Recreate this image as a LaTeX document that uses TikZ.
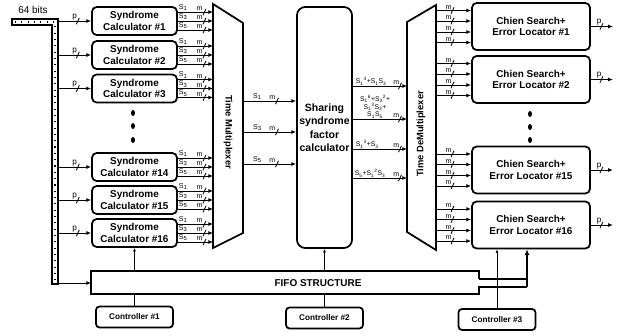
\documentclass[tikz,border=0pt]{standalone}
\usepackage{fontspec}
\setmainfont{Liberation Sans}
\usetikzlibrary{arrows.meta, calc}
\tikzset{
    blk/.style={draw=black, line width=1.5pt, rounded corners=4pt, align=center, inner sep=1pt,
        font=\fontsize{8.5}{9.5}\selectfont\bfseries},
    ctrl/.style={blk, rounded corners=3pt, minimum width=2.31cm, minimum height=0.63cm,
        font=\fontsize{7}{8}\selectfont\bfseries},
    sig/.style={-{Latex[length=4pt,width=3.4pt]}, line width=0.8pt},
    ctlarrow/.style={-{Latex[length=3pt,width=2.4pt]}, line width=0.5pt},
    lbl/.style={above, inner sep=0.5pt, font=\fontsize{6}{6.5}\selectfont},
    plbl/.style={lbl, font=\fontsize{7}{7.5}\selectfont},
    expr/.style={inner sep=0.6pt, align=center, font=\fontsize{5.8}{6.6}\selectfont},
    slash/.pic={\draw[-, line width=0.7pt] (-1.5,3.2) -- (1.5,-3.2);}
}

\begin{document}
\begin{tikzpicture}[x=0.03cm, y=-0.03cm]
    \useasboundingbox (0,0) rectangle (621,335);

    % 64 bit input bus
    \node[font=\fontsize{8.5}{9}\selectfont] (bits) at (33,10) {64 bits};
    \draw[line width=1.2pt] (12,19) -- (58,19) -- (58,284) -- (52,284) -- (52,25) -- (12,25) -- cycle;
    \draw[line width=1pt, dash pattern=on 0.9pt off 4.5pt] (15,22) -- (55,22) -- (55,281);
    \coordinate (bus) at (58,283);

    % syndrome calculators
    \foreach \n/\y in {1/21, 2/55, 3/88.5, 14/167, 15/200, 16/233} {
        \node[blk, minimum width=2.55cm, minimum height=0.84cm] (sc\n) at (134.5,\y) {Syndrome\\Calculator \#\n};
        \draw[sig] (bus |- sc\n) -- node[plbl, pos=0.5] {p} pic[pos=0.6] {slash} (sc\n.west);
    }
    \foreach \y in {113, 126, 140}
        \fill (133,\y) ellipse [x radius=0.06cm, y radius=0.09cm];

    % time multiplexer
    \coordinate (mux-tl) at (213,4);
    \coordinate (mux-tr) at (243,23);
    \draw[line width=1.5pt] (mux-tl) -- (mux-tr) -- (243,233) -- (213,248) -- cycle;
    \node[rotate=-90, font=\fontsize{8}{9}\selectfont\bfseries] (mux) at (228,132) {Time Multiplexer};
    \foreach \n in {1, 2, 3, 14, 15, 16}
        \foreach \k/\dy in {1/-9, 3/0, 5/9}
            \draw[sig] ($(sc\n.east)+(0,\dy)$) coordinate (s)
                -- node[lbl, pos=0.15] {S\textsubscript{\k}} node[lbl, pos=0.62] {m} pic[pos=0.76] {slash} (s -| mux-tl);

    % sharing syndrome factor calculator
    \node[blk, rounded corners=7pt, minimum width=1.65cm, minimum height=7.23cm,
        font=\fontsize{9}{11.5}\selectfont\bfseries] (ssf) at (324.5,127.5) {Sharing\\syndrome\\factor\\calculator};
    \foreach \k/\y in {1/101, 3/132, 5/164}
        \draw[sig] (mux-tr |- 0,\y) -- node[lbl, pos=0.27] {S\textsubscript{\k}} node[lbl, pos=0.55] {m} pic[pos=0.64] {slash} (ssf.west |- 0,\y);

    % time demultiplexer
    \coordinate (demux-tl) at (407,22);
    \coordinate (demux-tr) at (436,5);
    \draw[line width=1.5pt] (demux-tl) -- (demux-tr) -- (436,250) -- (407,232) -- cycle;
    \node[rotate=90, font=\fontsize{8}{9}\selectfont\bfseries] (demux) at (421,134) {Time DeMultiplexer};
    \foreach \y in {86, 119, 149, 178}
        \draw[sig] (ssf.east |- 0,\y) -- node[lbl, pos=0.8] {m} pic[pos=0.87] {slash} (demux-tl |- 0,\y);
    \node[expr, anchor=south west] (f1) at (355,86) {S\textsubscript{1}\textsuperscript{4}+S\textsubscript{1}S\textsubscript{3}};
    \node[expr, anchor=south] (f2) at (375,119) {S\textsubscript{1}\textsuperscript{6}+S\textsubscript{3}\textsuperscript{2}+\\S\textsubscript{1}\textsuperscript{3}S\textsubscript{3}+\\S\textsubscript{1}S\textsubscript{5}\hspace{14pt}};
    \node[expr, anchor=south west] (f3) at (355,149) {S\textsubscript{1}\textsuperscript{3}+S\textsubscript{3}};
    \node[expr, anchor=south west] (f4) at (354,178) {S\textsubscript{5}+S\textsubscript{1}\textsuperscript{2}S\textsubscript{3}};

    % chien search and error locators
    \foreach \n/\y in {1/26.5, 2/79.5, 15/170, 16/225} {
        \node[blk, minimum width=3.54cm, minimum height=1.41cm] (cs\n) at (531,\y) {Chien Search+\\Error Locator \#\n};
        \foreach \dy in {-16, -5.5, 5.5, 16}
            \draw[sig] ($(demux-tr |- cs\n)+(0,\dy)$) -- node[lbl, pos=0.36] {m} pic[pos=0.47] {slash} ($(cs\n.west)+(0,\dy)$);
        \coordinate (out\n) at ($(cs\n.east)+(22,0)$);
        \draw[sig] (cs\n.east) -- node[plbl, pos=0.38] {p} pic[pos=0.48] {slash} (out\n);
    }
    \foreach \y in {114, 127, 140}
        \fill (530,\y) ellipse [x radius=0.06cm, y radius=0.09cm];

    % FIFO structure
    \coordinate (fifo-top) at (91,271);
    \coordinate (fifo-bot) at (91,294);
    \coordinate (fifo-out) at (527,287);
    \draw[line width=1.5pt] (479,279) -- (479,271) -- (fifo-top) -- (fifo-bot) -- (479,294) -- (479,287) -- (fifo-out);
    \draw[line width=1.5pt] (479,279) -- (527,279);
    \draw[line width=1.5pt, -{Latex[length=5pt,width=4.5pt]}] (fifo-out) -- (fifo-out |- cs16.south);
    \node[font=\fontsize{8.5}{9}\selectfont\bfseries] (fifo) at (318,283) {FIFO STRUCTURE};
    \draw[sig] (bus) -- (bus -| fifo-top);
    \draw[ctlarrow] (sc16.south |- fifo-top) -- (sc16.south);
    \draw[ctlarrow] (ssf.south |- fifo-top) -- (ssf.south);

    % controllers
    \node[ctrl] (ctl1) at (134.5,317) {Controller \#1};
    \node[ctrl] (ctl2) at (324.5,318) {Controller \#2};
    \node[ctrl] (ctl3) at (497,319.5) {Controller \#3};
    \draw[line width=0.5pt] (ctl1) -- (ctl1 |- fifo-bot);
    \draw[line width=0.5pt] (ctl2) -- (ctl2 |- fifo-bot);
    \draw[ctlarrow] (ctl3) -- (ctl3 |- cs16.south);
\end{tikzpicture}
\end{document}
